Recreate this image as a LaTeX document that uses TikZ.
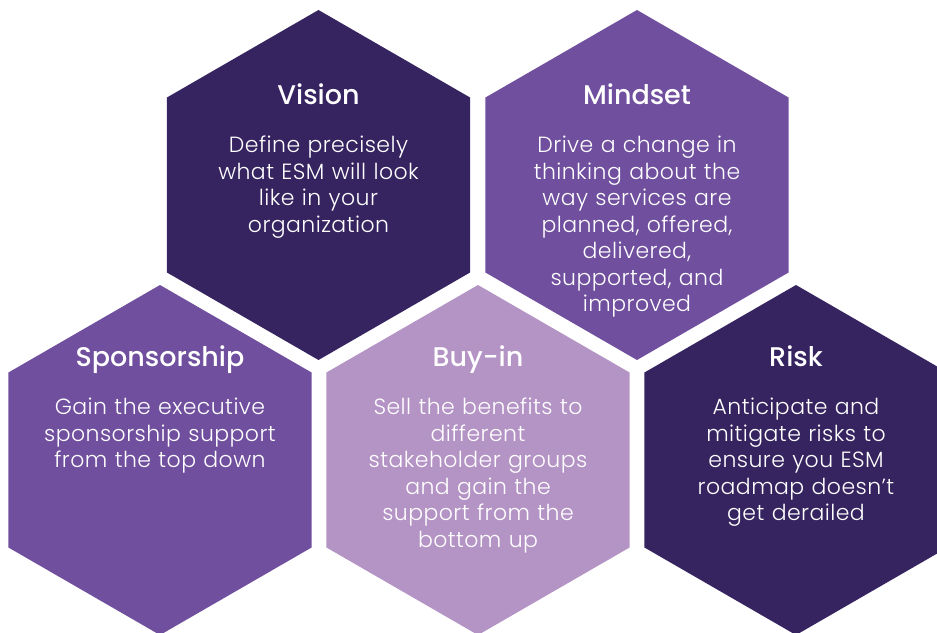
\documentclass[tikz,border=0pt]{standalone}
\usepackage{fontspec}
\setmainfont{Poppins}[UprightFont={* Light},BoldFont={* Medium}]
\usepackage{tikz}
\usetikzlibrary{shapes.geometric,positioning}
\definecolor{plumdark}{HTML}{362460}
\definecolor{plummid}{HTML}{704F9E}
\definecolor{plumlight}{HTML}{B493C5}

\begin{document}
\begin{tikzpicture}[x=1pt,y=-1pt,
  hexcell/.style={regular polygon,regular polygon sides=6,shape border rotate=30,
    minimum size=350pt,inner sep=0pt,outer sep=0pt,draw=none},
  hextitle/.style={text=white,font=\fontsize{27}{30}\selectfont\bfseries,inner sep=0pt,anchor=base},
  hexbody/.style={text=white,font=\fontsize{22}{26.5}\selectfont\addfontfeature{LetterSpace=2},
    align=center,text width=290pt,anchor=north,inner sep=0pt}]
\useasboundingbox (0,0) rectangle (937,632);
% top row
\node[hexcell,fill=plumdark] (vis) at (318.5,185) {};
\node[hexcell,fill=plummid] (mind) at (637,185) {};
% bottom row
\node[hexcell,fill=plummid] (spon) at (160,460) {};
\node[hexcell,fill=plumlight] (buy) at (478,460) {};
\node[hexcell,fill=plumdark] (risk) at (796,460) {};
% titles and texts
\node[hextitle] (visT) at ([yshift=-95pt]vis.north) {Vision};
\node[hexbody] (visB) at ([yshift=-126pt]vis.north) {Define precisely\\what ESM will look\\like in your\\organization};
\node[hextitle] (mindT) at ([yshift=-95pt]mind.north) {Mindset};
\node[hexbody] (mindB) at ([yshift=-126pt]mind.north) {Drive a change in\\thinking about the\\way services are\\planned, offered,\\delivered,\\supported, and\\improved};
\node[hextitle] (sponT) at ([yshift=-82pt]spon.north) {Sponsorship};
\node[hexbody] (sponB) at ([yshift=-113pt]spon.north) {Gain the executive\\sponsorship support\\from the top down};
\node[hextitle] (buyT) at ([yshift=-82pt]buy.north) {Buy-in};
\node[hexbody] (buyB) at ([yshift=-113pt]buy.north) {Sell the benefits to\\different\\stakeholder groups\\and gain the\\support from the\\bottom up};
\node[hextitle] (riskT) at ([yshift=-82pt]risk.north) {Risk};
\node[hexbody] (riskB) at ([yshift=-113pt]risk.north) {Anticipate and\\mitigate risks to\\ensure you ESM\\roadmap doesn’t\\get derailed};
\end{tikzpicture}
\end{document}
